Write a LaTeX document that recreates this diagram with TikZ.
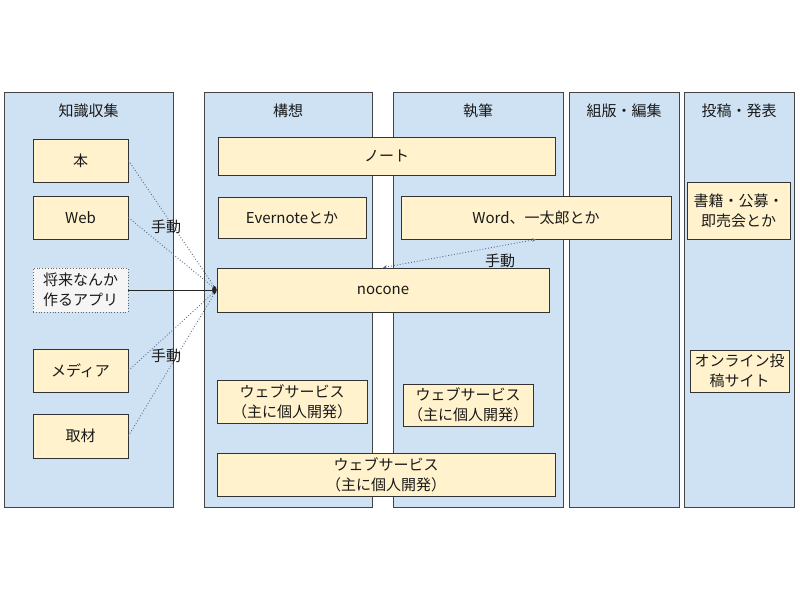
\documentclass[tikz,border=0pt]{standalone}
\usepackage{fontspec}
\setmainfont{Noto Sans CJK JP}
\usetikzlibrary{arrows.meta, positioning}

\definecolor{lanefill}{HTML}{CFE2F3}
\definecolor{boxfill}{HTML}{FFF2CC}
\definecolor{appfill}{HTML}{F5F5F5}
\definecolor{edgegray}{HTML}{444444}
\definecolor{manualline}{HTML}{5A6A85}

\begin{document}
\begin{tikzpicture}[x=1pt,y=-1pt,font=\fontsize{15}{20}\selectfont]
\tikzstyle{lane} = [draw=edgegray, line width=0.9pt, fill=lanefill, rectangle, minimum height=415pt, inner sep=0pt]
\tikzstyle{head} = [inner sep=0pt, text=black!90]
\tikzstyle{box} = [draw=black!80, line width=0.8pt, fill=boxfill, rectangle, align=center, inner sep=0pt, text=black!90]
\tikzstyle{appbox} = [box, draw=black!60, dotted, fill=appfill]
\tikzstyle{manual} = [manualline, line width=0.9pt, dotted]
\tikzstyle{tag} = [inner sep=0pt, text=black!90]

\useasboundingbox (0,0) rectangle (800,600);
\fill[white] (0,0) rectangle (800,600);

% Lanes
\node[lane, minimum width=169pt] (collect) at (88.5,299.5) {};
\node[lane, minimum width=168pt] (plan) at (288,299.5) {};
\node[lane, minimum width=170pt] (write) at (478,299.5) {};
\node[lane, minimum width=110pt] (layout) at (624,299.5) {};
\node[lane, minimum width=110pt] (publish) at (739,299.5) {};
%
\node[head, below=12.5pt of collect.north] (collect_h) {知識収集};
\node[head, below=12.5pt of plan.north] (plan_h) {構想};
\node[head, below=12.5pt of write.north] (write_h) {執筆};
\node[head, below=12.5pt of layout.north] (layout_h) {組版・編集};
\node[head, below=12.5pt of publish.north] (publish_h) {投稿・発表};

% Knowledge gathering
\node[box, minimum width=95pt, minimum height=43pt] (book) at (80.5,160.5) {本};
\node[box, minimum width=95pt, minimum height=43pt] (web) at (80.5,217.5) {Web};
\node[appbox, minimum width=95pt, minimum height=44pt] (app) at (80.5,290) {将来なんか\\作るアプリ};
\node[box, minimum width=95pt, minimum height=43pt] (media) at (80.5,370.5) {メディア};
\node[box, minimum width=95pt, minimum height=44pt] (interview) at (80.5,436) {取材};

% Planning / writing
\node[box, minimum width=337pt, minimum height=38pt] (note) at (386.5,156) {ノート};
\node[box, minimum width=148pt, minimum height=41pt] (evernote) at (292,217.5) {Evernoteとか};
\node[box, minimum width=270pt, minimum height=43pt] (word) at (536,217.5) {Word、一太郎とか};
\node[box, minimum width=332pt, minimum height=44pt] (nocone) at (383,290) {nocone};
\node[box, minimum width=150pt, minimum height=43pt] (websvc_a) at (292,401.5) {ウェブサービス\\（主に個人開発）};
\node[box, minimum width=130pt, minimum height=42pt] (websvc_b) at (468,405) {ウェブサービス\\（主に個人開発）};
\node[box, minimum width=338pt, minimum height=43pt] (websvc_c) at (386,474.5) {ウェブサービス\\（主に個人開発）};

% Publishing
\node[box, minimum width=103pt, minimum height=57pt] (books) at (738.5,210.5) {書籍・公募・\\即売会とか};
\node[box, minimum width=99pt, minimum height=42pt] (online) at (739.5,371) {オンライン投\\稿サイト};

% Connectors
\draw [manual] (book.east) -- (nocone.west);
\draw [manual] (web.east) -- (nocone.west);
\draw [manual] (media.east) -- (nocone.west);
\draw [manual] (interview.east) -- (nocone.west);
\draw [black!85, line width=0.8pt, -{Ellipse[length=4.5pt,width=8pt]}] (app.east) -- (nocone.west);
\draw [manual, {Stealth[length=4pt,width=3.5pt]}-{Stealth[length=4pt,width=3.5pt]}] (nocone.north) -- (word.south);

\node[tag] (manual_a) at (166,227) {手動};
\node[tag] (manual_b) at (166,356) {手動};
\node[tag] (manual_c) at (500,261) {手動};

\end{tikzpicture}
\end{document}
